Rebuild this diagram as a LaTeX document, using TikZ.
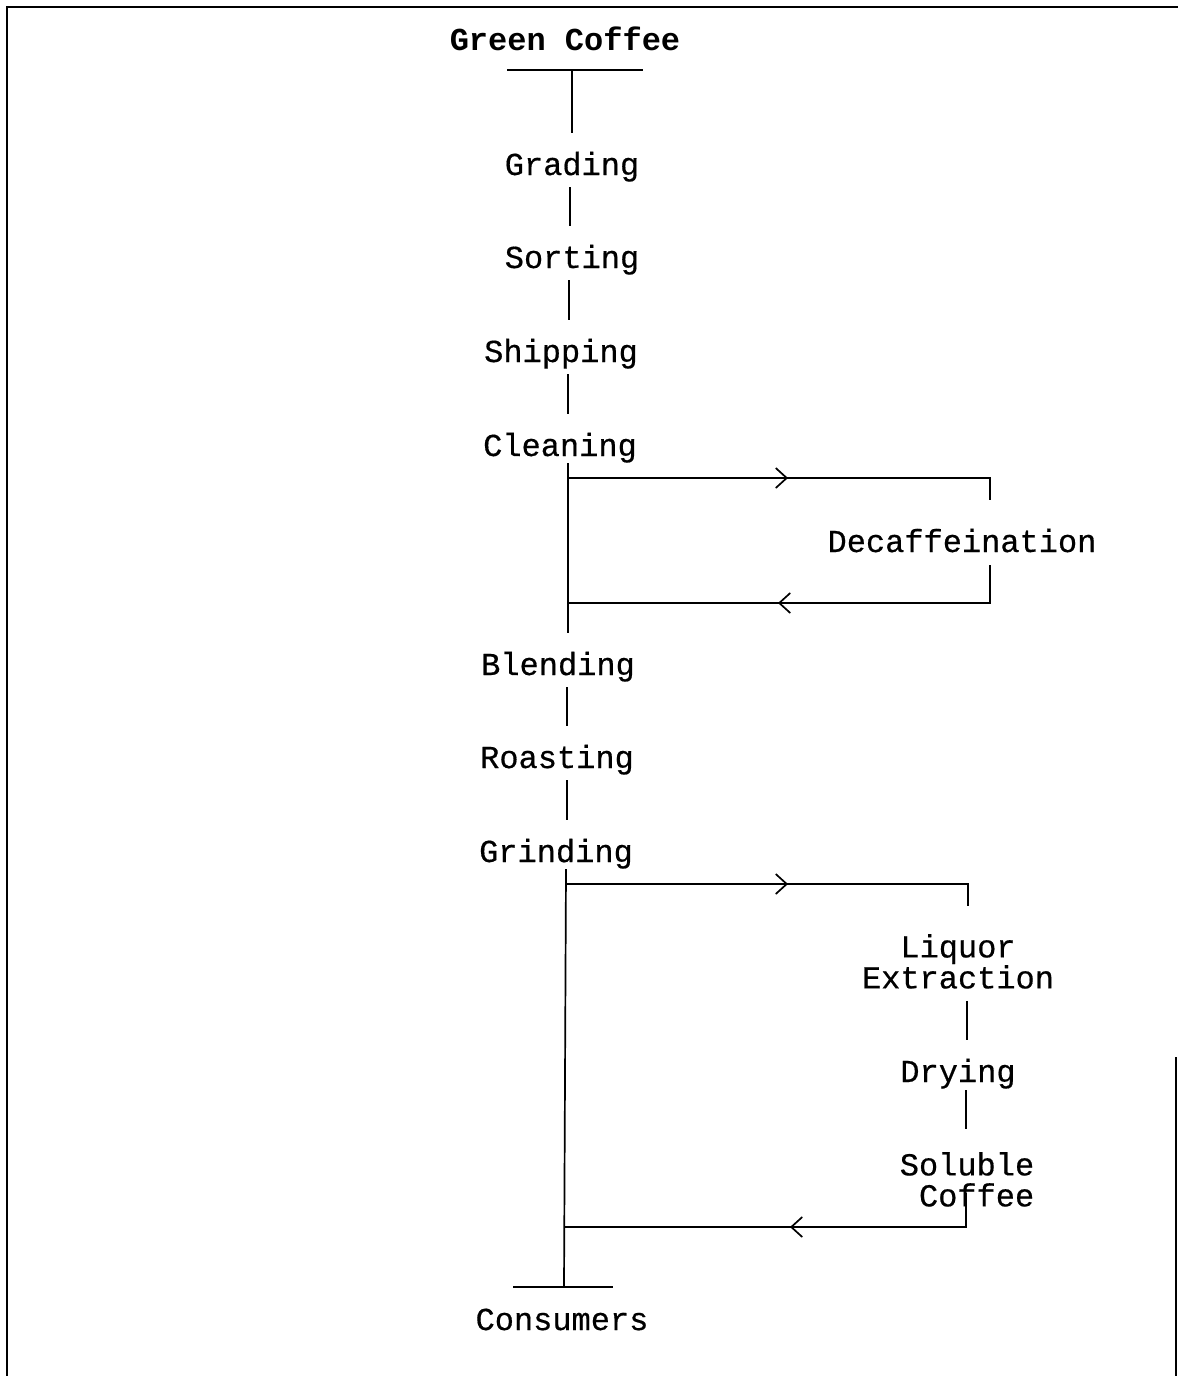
\documentclass[tikz,border=0pt]{standalone}
\usepackage{fontspec}
\setmainfont{Liberation Mono}[FakeBold=0.5]
\newfontfamily\gcbold{Liberation Mono Bold}
\usetikzlibrary{arrows.meta,decorations.markings,calc}
\begin{document}
\begin{tikzpicture}[x=1pt,y=-1pt,
  lbl/.style={inner sep=0pt,anchor=base,font=\fontsize{32}{31}\selectfont,text height=20pt,text depth=7pt},
  mlbl/.style={inner sep=0pt,anchor=north,font=\fontsize{32}{31}\selectfont},
  link/.style={line width=1.7pt,shorten <=5pt,shorten >=22pt},
  wire/.style={line width=1.7pt},
  bar/.style={line width=2.6pt},
  frame/.style={line width=2.6pt},
  midarrow/.style={postaction={decorate},decoration={markings,
     mark=at position #1 with {\arrow{Straight Barb[length=11pt,width=20pt]}}}}
]
\useasboundingbox (0,0) rectangle (1178,1376);
% frame
\draw[frame] (7,1376) -- (7,7) -- (1178,7);
\draw[line width=2pt] (1176,1057) -- (1176,1376);

% nodes
\node[lbl,font=\fontsize{32}{31}\gcbold] (green) at (565,50) {Green Coffee};
\node[lbl] (grading)   at (572,175)  {Grading};
\node[lbl] (sorting)   at (572,268)  {Sorting};
\node[lbl] (shipping)  at (561,362)  {Shipping};
\node[lbl] (cleaning)  at (560,456)  {Cleaning};
\node[lbl] (decaf)     at (962,552)  {Decaffeination};
\node[lbl] (blending)  at (558,675)  {Blending};
\node[lbl] (roasting)  at (557,768)  {Roasting};
\node[lbl] (grinding)  at (556,862)  {Grinding};
\node[mlbl,align=center] (liquor) at (958,934) {Liquor\\Extraction};
\node[lbl] (drying)    at (958,1082) {Drying};
\node[mlbl,align=right] (soluble) at (967,1152) {Soluble\\Coffee};
\node[lbl] (consumers) at (562,1330) {Consumers};

% column coordinates
\coordinate (gct) at (572,70);
\coordinate (cA) at (570,0);
\coordinate (cB) at (569,0);
\coordinate (cC) at (567,0);
\coordinate (b1) at (568,478);
\coordinate (b2) at (568,603);
\coordinate (d1) at (990,500);
\coordinate (d2) at (990,565);
\coordinate (b3) at (566,884);
\coordinate (b4) at (565,1227);
\coordinate (g1) at (968,906);
\coordinate (g2) at (966,1193);
\coordinate (cbar) at (564,1287);
\coordinate (rx) at (967,0);

% top bar and main chain
\draw[bar] ($(gct)+(-65,0)$) -- ($(gct)+(71,0)$);
\draw[link,shorten <=0pt] (gct) -- (grading.north -| gct);
\draw[link] (grading.south -| cA) -- (sorting.north -| cA);
\draw[link] (sorting.south -| cB) -- (shipping.north -| cB);
\draw[link] (shipping.south -| b1) -- (cleaning.north -| b1);
\draw[link,shorten <=0pt] (cleaning.south -| b1) -- (blending.north -| b1);
\draw[link] (blending.south -| cC) -- (roasting.north -| cC);
\draw[link] (roasting.south -| cC) -- (grinding.north -| cC);
\draw[wire] (grinding.south -| b3) -- (cbar);
\draw[bar] ($(cbar)+(-51,0)$) -- ($(cbar)+(49,0)$);

% decaffeination loop
\draw[wire,midarrow=220pt] (b1) -| (d1);
\draw[wire,midarrow=250pt] (d2) |- (b2);

% soluble coffee loop
\draw[wire,midarrow=222pt] (b3) -| (g1);
\draw[link,shorten <=12pt] (liquor.south -| rx) -- (drying.north -| rx);
\draw[link,shorten <=1pt,shorten >=23pt] (drying.south -| g2) -- (soluble.north -| g2);
\draw[wire,midarrow=210pt] (g2) |- (b4);
\end{tikzpicture}
\end{document}
